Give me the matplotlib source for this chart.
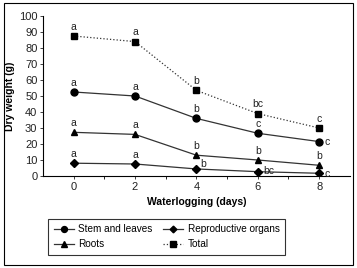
import matplotlib
matplotlib.use("Agg")
import matplotlib.pyplot as plt
from matplotlib.patches import Rectangle

plt.rcParams['font.family'] = ['Liberation Sans', 'DejaVu Sans']

days = [0, 2, 4, 6, 8]
stem = [52.5, 50, 36, 26.7, 21.5]
roots = [27.3, 26, 13, 10, 6.7]
repro = [8, 7.5, 4.4, 2.7, 1.7]
total = [87.5, 84, 53.5, 39, 30]

stem_lbl = ['a', 'a', 'b', 'c', 'c']
roots_lbl = ['a', 'a', 'b', 'b', 'b']
repro_lbl = ['a', 'a', 'b', 'bc', 'c']
total_lbl = ['a', 'a', 'b', 'bc', 'c']

fig = plt.figure(figsize=(3.57, 2.68), dpi=100)
ax = fig.add_axes([0.1204, 0.3433, 0.8596, 0.597])

lc = '#333333'
h1, = ax.plot(days, stem, '-', color=lc, lw=0.9, marker='o', ms=5, mfc='black', mec='black', label='Stem and leaves')
h2, = ax.plot(days, repro, '-', color=lc, lw=0.9, marker='D', ms=4, mfc='black', mec='black', label='Reproductive organs')
h3, = ax.plot(days, roots, '-', color=lc, lw=0.9, marker='^', ms=5, mfc='black', mec='black', label='Roots')
h4, = ax.plot(days, total, ':', color=lc, lw=0.9, marker='s', ms=5, mfc='black', mec='black', label='Total')

fs = 7.5
def lab(xs, ys, ls, offsets):
    for x, y, l, off in zip(xs, ys, ls, offsets):
        ax.annotate(l, (x, y), xytext=off, textcoords='offset points',
                    ha='center', va='bottom', fontsize=fs, color='#222222')

up = (0, 3)
lab(days, total, total_lbl, [up, up, up, up, up])
lab(days, stem, stem_lbl, [up, up, up, up, (6, -4)])
lab(days, roots, roots_lbl, [up, up, up, up, up])
lab(days, repro, repro_lbl, [up, up, (5, 0), (8, -3), (6, -4)])

ax.set_xlim(-1, 9)
ax.set_ylim(0, 100)
ax.set_xticks([0, 2, 4, 6, 8])
ax.set_xticks([1, 3, 5, 7], minor=True)
ax.set_yticks(range(0, 101, 10))
ax.tick_params(axis='both', labelsize=8, colors='#222222', length=2, width=0.6, direction='out', pad=2)
ax.tick_params(axis='x', which='minor', length=2, width=0.6)
for s in ['top', 'right']:
    ax.spines[s].set_visible(False)
for s in ['left', 'bottom']:
    ax.spines[s].set_linewidth(0.8)
ax.set_ylabel('Dry weight (g)', fontsize=7.5, fontweight='bold', labelpad=3)
ax.set_xlabel('Waterlogging (days)', fontsize=7.5, fontweight='bold', labelpad=4)

leg = fig.legend(handles=[h1, h3, h2, h4], ncol=2, fontsize=7.2,
                 loc='upper left', bbox_to_anchor=(43/357, 1 - 214/268),
                 frameon=True, fancybox=False, edgecolor='black',
                 handlelength=2.0, handletextpad=0.5, columnspacing=1.0,
                 borderpad=0.55, labelspacing=0.45, markerscale=0.85)
leg.get_frame().set_linewidth(0.8)

fig.patches.append(Rectangle((4/357, 3/268), 349/357, 262/268, transform=fig.transFigure,
                             fill=False, edgecolor='black', lw=0.8))

fig.savefig('out.png', dpi=100)
